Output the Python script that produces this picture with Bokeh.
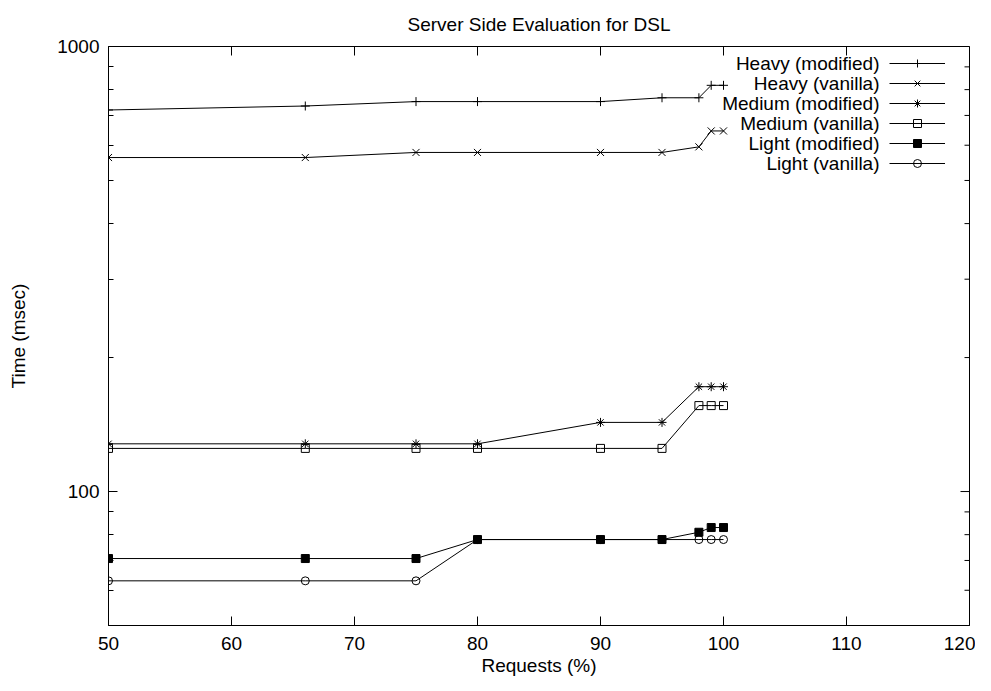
import math
from bokeh.plotting import figure
from bokeh.models import (Legend, LegendItem, FixedTicker, BasicTickFormatter,
                          Range1d, Label)
from bokeh.core.properties import value
from bokeh.embed import file_html
from bokeh.resources import INLINE

# ---- data ----
requests = [50, 66, 75, 80, 90, 95, 98, 99, 100]
heavy_modified = [720, 735, 752, 752, 752, 767, 767, 818, 818]
heavy_vanilla = [563, 563, 578, 578, 578, 578, 595, 646, 646]
medium_modified = [128, 128, 128, 128, 143, 143, 172, 172, 172]
medium_vanilla = [125, 125, 125, 125, 125, 125, 156, 156, 156]
light_modified = [70.7, 70.7, 70.7, 78, 78, 78, 81, 83, 83]
light_vanilla = [63, 63, 63, 78, 78, 78, 78, 78, 78]

series_names = ["Heavy (modified)", "Heavy (vanilla)", "Medium (modified)",
                "Medium (vanilla)", "Light (modified)", "Light (vanilla)"]
series_values = [heavy_modified, heavy_vanilla, medium_modified,
                 medium_vanilla, light_modified, light_vanilla]
series_markers = ["cross", "x", "asterisk", "square", "square", "circle"]
series_sizes = [9, 10, 9, 8, 8, 8]
series_fill = [None, None, None, None, "black", None]

title_text = "Server Side Evaluation for DSL"
x_ticks = [50, 60, 70, 80, 90, 100, 110, 120]
y_ticks = [100, 1000]
y_minor = [60, 70, 80, 90, 200, 300, 400, 500, 600, 700, 800, 900]
x_lo, x_hi = 50, 120
y_lo, y_hi = 50, 1000

FONT = "Liberation Sans"
W, H = 975, 678
BL, BR, BT, BB = 108, 6, 46, 51
FRAME_W = W - BL - BR
FRAME_H = H - BT - BB

p = figure(width=W, height=H, y_axis_type="log",
           x_range=Range1d(x_lo, x_hi), y_range=Range1d(y_lo, y_hi),
           output_backend="svg", toolbar_location=None, title=title_text,
           min_border_left=BL, min_border_right=BR,
           min_border_top=BT, min_border_bottom=BB)

p.title.align = "center"
p.title.vertical_align = "top"
p.title.standoff = 19
p.title.text_font = FONT
p.title.text_font_size = "19px"
p.title.text_font_style = "normal"
p.title.text_color = "black"

p.xgrid.visible = False
p.ygrid.visible = False
p.outline_line_color = "black"
p.outline_line_width = 1
p.background_fill_color = "white"
p.border_fill_color = "white"


def style_axis(ax):
    ax.axis_line_color = "black"
    ax.major_tick_line_color = "black"
    ax.minor_tick_line_color = "black"
    ax.major_tick_in = 9
    ax.major_tick_out = 0
    ax.minor_tick_in = 5
    ax.minor_tick_out = 0
    ax.major_label_text_font = FONT
    ax.major_label_text_color = "black"
    ax.major_label_text_font_size = "19px"
    ax.axis_label_text_font = FONT
    ax.axis_label_text_font_size = "19px"
    ax.axis_label_text_font_style = "normal"
    ax.axis_label_text_color = "black"


xa = p.xaxis[0]
xa.ticker = FixedTicker(ticks=x_ticks, minor_ticks=[])
xa.axis_label = "Requests (%)"
style_axis(xa)
xa.major_label_standoff = 11
xa.axis_label_standoff = 2

ya = p.yaxis[0]
ya.ticker = FixedTicker(ticks=y_ticks, minor_ticks=y_minor)
ya.formatter = BasicTickFormatter(use_scientific=False)
ya.axis_label = "Time (msec)"
style_axis(ya)
ya.major_label_standoff = 9
ya.axis_label_standoff = 25

# mirrored inward ticks on the top and right borders (clipped to the frame)
p.scatter(x_ticks, [y_hi] * len(x_ticks), marker="dash", angle=math.pi / 2,
          size=18, line_color="black", line_width=1)
p.scatter([x_hi] * len(y_ticks), y_ticks, marker="dash", size=18,
          line_color="black", line_width=1)
p.scatter([x_hi] * len(y_minor), y_minor, marker="dash", size=10,
          line_color="black", line_width=1)

items = []
for name, vals, mk, sz, fc in zip(series_names, series_values, series_markers,
                                  series_sizes, series_fill):
    ln = p.line(requests, vals, line_color="black", line_width=1)
    sc = p.scatter(requests, vals, marker=mk, size=sz, line_color="black",
                   fill_color=fc, line_width=1)
    items.append(LegendItem(label=value(" "), renderers=[ln, sc]))

# gnuplot-style key: text right-aligned, sample to its right
KEY_TOP = 19      # px from frame top to first row centre
KEY_PITCH = 20    # px between rows
KEY_SAMPLE_X = 781
KEY_TEXT_X = 771
n_rows = len(series_names)
legend = Legend(items=items,
                location=(KEY_SAMPLE_X, FRAME_H - KEY_TOP - KEY_PITCH * (n_rows - 1) - KEY_PITCH // 2),
                glyph_width=56, glyph_height=KEY_PITCH, label_height=KEY_PITCH,
                label_width=1, label_standoff=0, spacing=0, padding=0, margin=0,
                border_line_color=None, background_fill_alpha=0,
                label_text_font=FONT, label_text_font_size="2px")
p.add_layout(legend)

for i, name in enumerate(series_names):
    p.add_layout(Label(x=KEY_TEXT_X, y=FRAME_H - KEY_TOP - KEY_PITCH * i,
                       x_units="screen", y_units="screen", text=name,
                       text_align="right", text_baseline="middle",
                       text_font=FONT, text_font_size="19px", text_color="black"))

open("out.html", "w").write(file_html(p, INLINE))
